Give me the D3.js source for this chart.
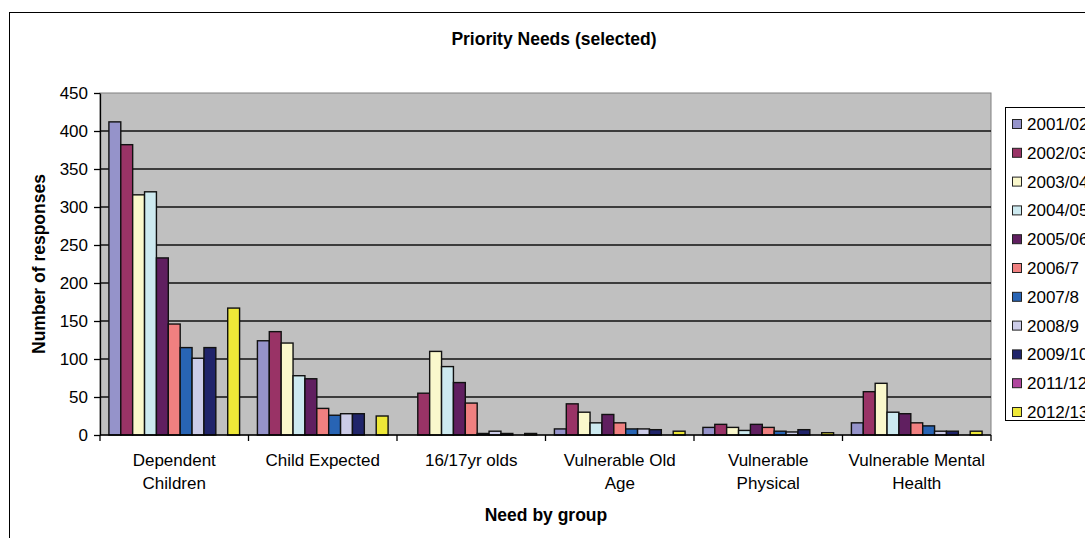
<!DOCTYPE html>
<html>
<head>
<meta charset="utf-8">
<script src="https://cdn.jsdelivr.net/npm/d3@7"></script>
<style>
  html, body { margin: 0; padding: 0; background: #fff; }
  svg { display: block; font-family: "Liberation Sans", Arial, sans-serif; }
</style>
</head>
<body>
<svg id="chart" width="1085" height="538"></svg>
<script>
// Need groups (x axis) with their wrapped label lines
const categories = ["Dependent Children", "Child Expected", "16/17yr olds",
  "Vulnerable Old Age", "Vulnerable Physical", "Vulnerable Mental Health"];
const categoryLines = [["Dependent", "Children"], ["Child Expected"], ["16/17yr olds"],
  ["Vulnerable Old", "Age"], ["Vulnerable", "Physical"], ["Vulnerable Mental", "Health"]];

// Reporting years (series)
const years = ["2001/02", "2002/03", "2003/04", "2004/05", "2005/06", "2006/7",
  "2007/8", "2008/9", "2009/10", "2011/12", "2012/13"];
const yearColors = ["#9593CA", "#993366", "#FAF8CC", "#CDEAF0", "#601F60", "#F08080",
  "#2864B4", "#CCCCE8", "#20246A", "#B0469E", "#EEE838"];

// Responses per year, one array per need group
const dependentChildren = [412, 382, 316, 320, 233, 146, 115, 101, 115, 0, 167];
const childExpected     = [124, 136, 121, 78, 74, 35, 26, 28, 28, 0, 25];
const youngPeople1617   = [0, 55, 110, 90, 69, 42, 2, 5, 2, 0, 2];
const vulnerableOldAge  = [8, 41, 30, 16, 27, 16, 8, 8, 7, 0, 5];
const vulnerablePhys    = [10, 14, 10, 6, 14, 10, 5, 4, 7, 0, 3];
const vulnerableMental  = [16, 57, 68, 30, 28, 16, 12, 5, 5, 0, 5];
const groupValues = [dependentChildren, childExpected, youngPeople1617,
  vulnerableOldAge, vulnerablePhys, vulnerableMental];

const yTicks = [0, 50, 100, 150, 200, 250, 300, 350, 400, 450];

const svg = d3.select("#chart");
const plot = { left: 100, right: 991, top: 93, bottom: 435 };

// Outer chart frame
svg.append("rect")
  .attr("x", 9.5).attr("y", 12.5).attr("width", 1200).attr("height", 700)
  .attr("fill", "#fff").attr("stroke", "#000").attr("stroke-width", 1);

const x0 = d3.scaleBand().domain(categories).range([plot.left, plot.right]).padding(0);
const x1 = d3.scaleBand().domain(years).range([0, x0.bandwidth()])
  .paddingInner(0).paddingOuter(0.75);
const y = d3.scaleLinear().domain([0, 450]).range([plot.bottom, plot.top]);

// Plot area background
svg.append("rect")
  .attr("x", plot.left).attr("y", plot.top)
  .attr("width", plot.right - plot.left).attr("height", plot.bottom - plot.top)
  .attr("fill", "#C0C0C0").attr("stroke", "#808080").attr("stroke-width", 1);

// Horizontal gridlines
svg.append("g")
  .selectAll("line")
  .data(yTicks.filter(d => d > 0 && d < 450))
  .join("line")
  .attr("x1", plot.left).attr("x2", plot.right)
  .attr("y1", d => y(d)).attr("y2", d => y(d))
  .attr("stroke", "#111").attr("stroke-width", 1.5);

// Bars
const groups = svg.append("g")
  .selectAll("g")
  .data(categories)
  .join("g")
  .attr("transform", d => `translate(${x0(d)},0)`);

groups.selectAll("rect")
  .data((c, ci) => years.map((yr, i) => ({ yr, i, v: groupValues[ci][i] })).filter(d => d.v > 0))
  .join("rect")
  .attr("x", d => x1(d.yr))
  .attr("y", d => y(d.v))
  .attr("width", x1.bandwidth())
  .attr("height", d => y(0) - y(d.v))
  .attr("fill", d => yearColors[d.i])
  .attr("stroke", "#111").attr("stroke-width", 1.4);

// Y axis
const yAxis = svg.append("g")
  .attr("transform", `translate(${plot.left},0)`)
  .call(d3.axisLeft(y).tickValues(yTicks).tickSize(6).tickPadding(6).tickSizeOuter(0));
yAxis.select(".domain").attr("stroke", "#000").attr("stroke-width", 1.3);
yAxis.selectAll(".tick line").attr("stroke", "#000").attr("stroke-width", 1.3);
yAxis.selectAll(".tick text")
  .attr("font-size", 17).attr("fill", "#000")
  .attr("font-family", "Liberation Sans, Arial, sans-serif");

// X axis with tick marks at group boundaries
const xAxis = svg.append("g").attr("transform", `translate(0,${plot.bottom})`);
xAxis.append("line")
  .attr("x1", plot.left).attr("x2", plot.right)
  .attr("stroke", "#000").attr("stroke-width", 1.3);
xAxis.selectAll(".bound")
  .data(categories.map(c => x0(c)).concat([plot.right]))
  .join("line")
  .attr("class", "bound")
  .attr("x1", d => d).attr("x2", d => d)
  .attr("y1", 0).attr("y2", 6)
  .attr("stroke", "#000").attr("stroke-width", 1.3);

// Category labels
const catLabels = svg.append("g")
  .selectAll("text")
  .data(categories)
  .join("text")
  .attr("x", d => x0(d) + x0.bandwidth() / 2)
  .attr("y", 466)
  .attr("text-anchor", "middle")
  .attr("font-size", 17)
  .attr("fill", "#000");
catLabels.selectAll("tspan")
  .data((d, i) => categoryLines[i])
  .join("tspan")
  .attr("x", function () { return d3.select(this.parentNode).attr("x"); })
  .attr("dy", (d, i) => i === 0 ? 0 : 23)
  .text(d => d);

// Title and axis titles
svg.append("text")
  .attr("x", 554).attr("y", 45)
  .attr("text-anchor", "middle")
  .attr("font-size", 17.5).attr("font-weight", "bold")
  .text("Priority Needs (selected)");

svg.append("text")
  .attr("transform", "translate(45,264) rotate(-90)")
  .attr("text-anchor", "middle")
  .attr("font-size", 17.5).attr("font-weight", "bold")
  .text("Number of responses");

svg.append("text")
  .attr("x", 546).attr("y", 521)
  .attr("text-anchor", "middle")
  .attr("font-size", 17.5).attr("font-weight", "bold")
  .text("Need by group");

// Legend
const legend = svg.append("g");
legend.append("rect")
  .attr("x", 1005.5).attr("y", 107.5).attr("width", 200).attr("height", 313)
  .attr("fill", "#fff").attr("stroke", "#000").attr("stroke-width", 1);
const items = legend.selectAll(".item")
  .data(years)
  .join("g")
  .attr("class", "item")
  .attr("transform", (d, i) => `translate(0,${124 + i * 28.8})`);
items.append("rect")
  .attr("x", 1012.5).attr("y", -4.5).attr("width", 9).attr("height", 9)
  .attr("fill", (d, i) => yearColors[i])
  .attr("stroke", "#222").attr("stroke-width", 1);
items.append("text")
  .attr("x", 1027).attr("y", 6)
  .attr("font-size", 17).attr("fill", "#000")
  .text(d => d);
</script>
</body>
</html>
